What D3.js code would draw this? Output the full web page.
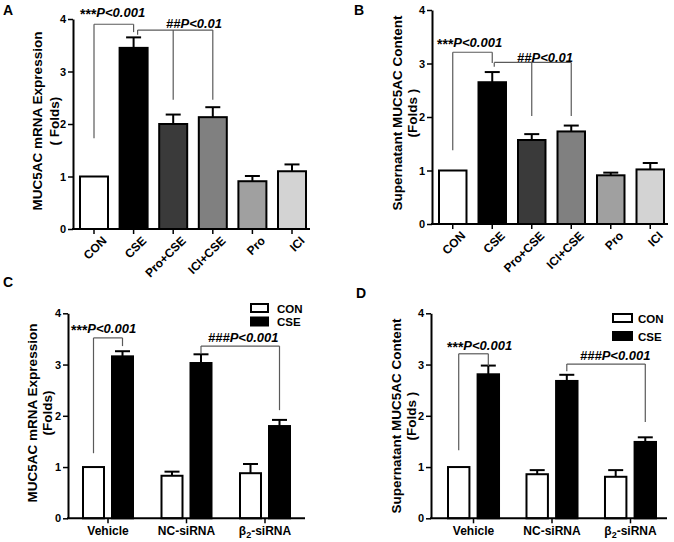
<!DOCTYPE html>
<html><head><meta charset="utf-8">
<script src="https://cdn.jsdelivr.net/npm/d3@7"></script>
<style>
body{margin:0;background:#fff;}
svg{display:block;font-family:"Liberation Sans",Arial,sans-serif;}
</style></head>
<body><svg id="c" width="674" height="542"></svg>
<script>
// ---------- DATA ----------
const catsAB = ["CON","CSE","Pro+CSE","ICI+CSE","Pro","ICI"];
const colorsAB = ["#ffffff","#000000","#3a3a3a","#808080","#a0a0a0","#d3d3d3"];
const meanA = [1.00,3.45,2.00,2.13,0.91,1.10];
const semA  = [0.00,0.20,0.18,0.19,0.10,0.13];
const meanB = [1.00,2.65,1.57,1.73,0.91,1.02];
const semB  = [0.00,0.19,0.11,0.11,0.05,0.12];

const groupsCD = ["Vehicle","NC-siRNA","β2-siRNA"];
const seriesCD = ["CON","CSE"];
const seriesColors = ["#ffffff","#000000"];
const meanC_CON = [1.00,0.83,0.88];
const semC_CON  = [0.00,0.08,0.18];
const meanC_CSE = [3.16,3.03,1.80];
const semC_CSE  = [0.10,0.17,0.12];
const meanD_CON = [1.00,0.86,0.81];
const semD_CON  = [0.00,0.08,0.13];
const meanD_CSE = [2.81,2.68,1.49];
const semD_CSE  = [0.17,0.12,0.09];

const yTicks = [0,1,2,3,4];

// ---------- LAYOUT ----------
const svg = d3.select("#c");
const panels = [
  {id:"A", lx:3, ly:15, left:73, axisEnd:310, barStart:80, barEnd:306, pin:0.293, top:19, bottom:229,
   title:["MUC5AC mRNA Expression","( Folds)"], tx:[42,59], ty:121, type:"single", mean:meanA, sem:semA},
  {id:"B", lx:354, ly:15, left:432, axisEnd:668, barStart:439, barEnd:664, pin:0.304, top:10, bottom:224,
   title:["Supernatant MUC5AC Content","(Folds )"], tx:[402,417], ty:113, type:"single", mean:meanB, sem:semB},
  {id:"C", lx:3, ly:287, left:68, axisEnd:305, barStart:83, barEnd:290, pin:0.363, top:313.3, bottom:518.3,
   title:["MUC5AC mRNA Expression","(Folds)"], tx:[37,52], ty:413, type:"group",
   series:[{m:meanC_CON,s:semC_CON},{m:meanC_CSE,s:semC_CSE}],
   legend:{x:251,y:304,w:17,h:8,gap:13.5,tx:277}},
  {id:"D", lx:356, ly:298, left:431, axisEnd:667, barStart:448, barEnd:656, pin:0.35, top:313.3, bottom:518.3,
   title:["Supernatant MUC5AC Content","(Folds )"], tx:[401,416], ty:416, type:"group",
   series:[{m:meanD_CON,s:semD_CON},{m:meanD_CSE,s:semD_CSE}],
   legend:{x:613,y:314,w:19,h:8,gap:18,tx:638}}
];

// annotations: brackets in data units (y) and category/bar references
const annots = {
  A:[{text:["***","P<0.001"], tx:80, ty:4.04, legs:[{c:0,y0:1.73},{c:1,y0:3.75}], yh:3.90},
     {text:["##","P<0.01"], tx:166, ty:3.83, legs:[{c:1,y0:3.70,dx:4},{c:2,y0:2.46},{c:3,y0:2.46}], yh:3.79}],
  B:[{text:["***","P<0.001"], tx:437, ty:3.31, legs:[{c:0,y0:1.38},{c:1,y0:3.01}], yh:3.21},
     {text:["##","P<0.01"], tx:517, ty:3.03, legs:[{c:1,y0:2.94,dx:2},{c:2,y0:2.02},{c:3,y0:2.02}], yh:3.02}],
  C:[{text:["***","P<0.001"], tx:71, ty:3.62, legs:[{g:0,s:0,y0:1.27},{g:0,s:1,y0:3.36}], yh:3.52},
     {text:["###","P<0.001"], tx:208, ty:3.44, legs:[{g:1,s:1,y0:3.22},{g:2,s:1,y0:2.11}], yh:3.36}],
  D:[{text:["***","P<0.001"], tx:447, ty:3.29, legs:[{g:0,s:0,y0:1.33},{g:0,s:1,y0:2.97}], yh:3.21},
     {text:["###","P<0.001"], tx:580, ty:3.09, legs:[{g:1,s:1,y0:2.87},{g:2,s:1,y0:1.88}], yh:3.01}]
};

panels.forEach(p=>{
  const g = svg.append("g");
  const y = d3.scaleLinear().domain([0,4]).range([p.bottom,p.top]);
  let x, xi;
  if(p.type==="single"){
    x = d3.scaleBand().domain(catsAB).range([p.barStart,p.barEnd]).paddingInner(p.pin).paddingOuter(0);
  } else {
    x = d3.scaleBand().domain(groupsCD).range([p.barStart,p.barEnd]).paddingInner(p.pin).paddingOuter(0);
    xi = d3.scaleBand().domain(seriesCD).range([0,x.bandwidth()]).paddingInner(0.276).paddingOuter(0);
  }
  const bars = [];
  if(p.type==="single"){
    catsAB.forEach((c,i)=>bars.push({x0:x(c), w:x.bandwidth(), m:p.mean[i], s:p.sem[i], fill:colorsAB[i]}));
  } else {
    groupsCD.forEach((gr,gi)=>seriesCD.forEach((s,si)=>bars.push({x0:x(gr)+xi(s), w:xi.bandwidth(),
      m:p.series[si].m[gi], s:p.series[si].s[gi], fill:seriesColors[si]})));
  }
  bars.forEach(b=>{
    if(b.s>0){
      const cx=b.x0+b.w/2;
      g.append("line").attr("x1",cx).attr("x2",cx).attr("y1",y(b.m)).attr("y2",y(b.m+b.s)).attr("stroke","#000").attr("stroke-width",2);
      g.append("line").attr("x1",cx-7.5).attr("x2",cx+7.5).attr("y1",y(b.m+b.s)).attr("y2",y(b.m+b.s)).attr("stroke","#000").attr("stroke-width",2);
    }
  });
  g.selectAll("rect.bar").data(bars).enter().append("rect").attr("class","bar")
    .attr("x",d=>d.x0).attr("width",d=>d.w).attr("y",d=>y(d.m)).attr("height",d=>y(0)-y(d.m))
    .attr("fill",d=>d.fill).attr("stroke","#000").attr("stroke-width",2);

  const ya = g.append("g").attr("transform",`translate(${p.left},0)`)
    .call(d3.axisLeft(y).tickValues(yTicks).tickFormat(d3.format("d")).tickSize(5).tickSizeOuter(0).tickPadding(2));
  ya.select(".domain").attr("stroke-width",2);
  ya.selectAll(".tick line").attr("stroke-width",1.5);
  ya.selectAll("text").attr("font-size",11).attr("font-weight","bold").attr("font-family","Liberation Sans, Arial");
  const xa = g.append("g").attr("transform",`translate(0,${p.bottom})`)
    .call(d3.axisBottom(x).tickSize(5).tickSizeOuter(0));
  xa.select(".domain").remove();
  xa.selectAll(".tick line").attr("stroke-width",1.5);
  g.append("line").attr("x1",p.left-1).attr("x2",p.axisEnd).attr("y1",p.bottom).attr("y2",p.bottom).attr("stroke","#000").attr("stroke-width",2);
  if(p.type==="single"){
    xa.selectAll(".tick text").attr("text-anchor","end").attr("font-size",12).attr("font-weight","bold")
      .attr("font-family","Liberation Sans, Arial")
      .attr("transform","translate(5,4) rotate(-45)").attr("dy","0.5em").attr("y",6).attr("x",0);
  } else {
    xa.selectAll(".tick text").attr("font-size",12).attr("font-weight","bold").attr("font-family","Liberation Sans, Arial")
      .attr("y",8).each(function(d){
        if(d.startsWith("β2")){
          const t=d3.select(this); t.text("");
          t.append("tspan").text("β");
          t.append("tspan").text("2").attr("font-size",9).attr("dy","3");
          t.append("tspan").text("-siRNA").attr("dy","-3");
        }
      });
  }
  p.title.forEach((t,i)=>{
    g.append("text").attr("transform",`translate(${p.tx[i]},${p.ty}) rotate(-90)`).attr("text-anchor","middle")
      .attr("font-size",13.5).attr("font-weight","bold").text(t);
  });
  svg.append("text").attr("x",p.lx).attr("y",p.ly).attr("font-size",14).attr("font-weight","bold").text(p.id);

  if(p.legend){
    const L=p.legend;
    seriesCD.forEach((s,i)=>{
      g.append("rect").attr("x",L.x).attr("y",L.y+i*L.gap).attr("width",L.w).attr("height",L.h)
        .attr("fill",seriesColors[i]).attr("stroke","#000").attr("stroke-width",2);
      g.append("text").attr("x",L.tx).attr("y",L.y+i*L.gap+L.h+0.5).attr("font-size",11.5).attr("font-weight","bold").text(s);
    });
  }
  (annots[p.id]||[]).forEach(a=>{
    const legX = l => (p.type==="single" ? x(catsAB[l.c])+x.bandwidth()/2 : x(groupsCD[l.g])+xi(seriesCD[l.s])+xi.bandwidth()/2) + (l.dx||0);
    const xs = a.legs.map(legX);
    const yh = y(a.yh);
    g.append("line").attr("x1",d3.min(xs)).attr("x2",d3.max(xs)).attr("y1",yh).attr("y2",yh).attr("stroke","#5a5a5a").attr("stroke-width",1.2);
    a.legs.forEach((l,i)=>{
      g.append("line").attr("x1",xs[i]).attr("x2",xs[i]).attr("y1",yh).attr("y2",y(l.y0)).attr("stroke","#5a5a5a").attr("stroke-width",1.2);
    });
    const t = g.append("text").attr("x",a.tx).attr("y",y(a.ty)).attr("font-size",13).attr("font-weight","bold").attr("font-style","italic");
    const isStar = a.text[0].startsWith("*");
    t.append("tspan").text(a.text[0]).attr("font-size",isStar?14:13).attr("font-style",isStar?"normal":"italic").attr("dy",isStar?2:0);
    t.append("tspan").text(a.text[1]).attr("dy",isStar?-2:0);
  });
});
</script></body></html>
